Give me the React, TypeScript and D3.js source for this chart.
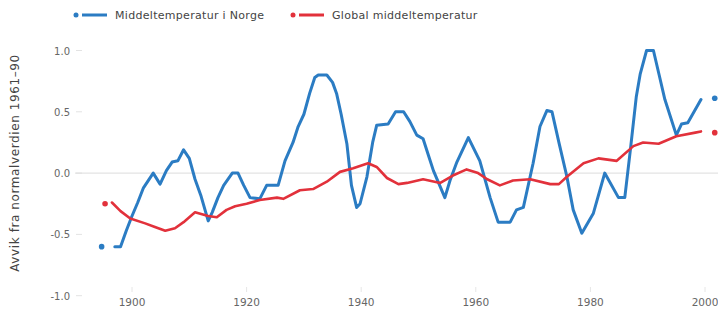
import React from 'react'
import * as d3 from 'd3'

// Middeltemperatur i Norge (avvik fra 1961-90)
const norgeYears = [1897, 1898, 1899, 1900, 1901, 1902, 1903.7, 1904.9, 1906, 1907, 1908, 1909, 1910, 1911, 1912, 1913.3, 1914, 1915, 1916, 1917.5, 1918.5, 1919.5, 1920.6, 1922.3, 1923.5, 1925.5, 1926.7, 1928.1, 1929, 1930, 1931, 1931.9, 1932.5, 1934, 1935, 1935.7, 1936.5, 1937.5, 1938.3, 1939.2, 1939.8, 1941, 1942, 1942.7, 1944.7, 1946, 1947.4, 1948.5, 1949.7, 1950.8, 1951.7, 1952.6, 1954.6, 1955.5, 1956.7, 1958.7, 1960.7, 1962.5, 1963.9, 1966, 1967.1, 1968.3, 1970, 1971.2, 1972.4, 1973.3, 1974.5, 1975.9, 1977, 1978.5, 1980.5, 1982.5, 1984.9, 1986, 1987, 1988, 1988.7, 1989.8, 1991, 1992, 1993, 1995, 1995.9, 1997, 1999.3]
const norgeValues = [-0.6, -0.6, -0.47, -0.35, -0.24, -0.12, 0.0, -0.09, 0.02, 0.09, 0.1, 0.19, 0.12, -0.05, -0.18, -0.39, -0.32, -0.2, -0.1, 0.0, 0.0, -0.1, -0.2, -0.21, -0.1, -0.1, 0.1, 0.25, 0.38, 0.48, 0.65, 0.78, 0.8, 0.8, 0.74, 0.65, 0.48, 0.24, -0.1, -0.28, -0.25, -0.03, 0.25, 0.39, 0.4, 0.5, 0.5, 0.42, 0.31, 0.28, 0.15, 0.02, -0.2, -0.06, 0.09, 0.29, 0.1, -0.2, -0.4, -0.4, -0.3, -0.28, 0.08, 0.38, 0.51, 0.5, 0.25, -0.03, -0.3, -0.49, -0.33, 0.0, -0.2, -0.2, 0.2, 0.62, 0.81, 1.0, 1.0, 0.8, 0.6, 0.31, 0.4, 0.41, 0.6]

// Global middeltemperatur
const globalYears = [1896.5, 1898, 1899.7, 1902.3, 1904, 1905.8, 1907.5, 1909, 1911, 1913.3, 1914.8, 1916.5, 1918, 1920, 1922.3, 1925.3, 1926.4, 1929.3, 1931.6, 1934, 1936.3, 1938.6, 1941.2, 1942.7, 1944.5, 1946.5, 1948, 1950.8, 1953.8, 1956, 1958.4, 1960.4, 1962, 1964.2, 1966.5, 1969.5, 1973, 1974.5, 1975.9, 1978.8, 1981.4, 1984.6, 1987.5, 1989.2, 1991.9, 1995, 1998.3, 1999.3]
const globalValues = [-0.24, -0.31, -0.37, -0.41, -0.44, -0.47, -0.45, -0.4, -0.32, -0.35, -0.36, -0.3, -0.27, -0.25, -0.22, -0.2, -0.21, -0.14, -0.13, -0.07, 0.01, 0.04, 0.08, 0.05, -0.04, -0.09, -0.08, -0.05, -0.08, -0.02, 0.03, 0.0, -0.05, -0.1, -0.06, -0.05, -0.09, -0.09, -0.03, 0.08, 0.12, 0.1, 0.22, 0.25, 0.24, 0.3, 0.33, 0.34]

// end markers (first / last value, drawn beside the line)
const norgeMarkers = [[1894.7, -0.6], [2001.7, 0.61]]
const globalMarkers = [[1895.3, -0.25], [2001.7, 0.33]]

const xTicks = [1900, 1920, 1940, 1960, 1980, 2000]
const yTicks = [1.0, 0.5, 0.0, -0.5, -1.0]

const series = [
    { name: 'Middeltemperatur i Norge', years: norgeYears, values: norgeValues, markers: norgeMarkers, color: '#2b7cc3', width: 3 },
    { name: 'Global middeltemperatur', years: globalYears, values: globalValues, markers: globalMarkers, color: '#e2313b', width: 2.6 }
]

const width = 718
const height = 312
const font = '"DejaVu Sans", Verdana, sans-serif'

export default function App() {
    const x = d3.scaleLinear().domain([1900, 2000]).range([132, 705])
    const y = d3.scaleLinear().domain([-1, 1]).range([295.7, 50.5])

    const line = d3.line<number[]>()
        .x(d => x(d[0]))
        .y(d => y(d[1]))

    const legendX = [76, 293]

    return (
        <svg width={width} height={height} style={{ position: 'absolute', left: 0, top: 0, background: '#fff' }}>
            {/* legend */}
            {series.map((s, i) => (
                <g key={s.name} transform={`translate(${legendX[i]},15)`}>
                    <circle cx={0} cy={0} r={2.5} fill={s.color} />
                    <line x1={6} x2={31} y1={0} y2={0} stroke={s.color} strokeWidth={3} />
                    <text x={39} y={4} fontFamily={font} fontSize={11} letterSpacing={0.3} fill="#444">{s.name}</text>
                </g>
            ))}

            {/* y axis */}
            <text transform="translate(19,163) rotate(-90)" textAnchor="middle" fontFamily={font} fontSize={12}
                letterSpacing={0.6} fill="#444">
                Avvik fra normalverdien 1961–90
            </text>
            {yTicks.map(t => (
                <g key={t}>
                    <text x={70} y={y(t) + 4} textAnchor="end" fontFamily={font} fontSize={10} fill="#666">
                        {d3.format('.1f')(t).replace('−', '-')}
                    </text>
                    <line x1={76} x2={82} y1={y(t)} y2={y(t)} stroke="#e3e3e3" strokeWidth={1} />
                </g>
            ))}
            <line x1={75} x2={width} y1={y(0)} y2={y(0)} stroke="#dcdcdc" strokeWidth={1} />

            {/* x axis */}
            {xTicks.map(t => (
                <g key={t}>
                    <line x1={x(t)} x2={x(t)} y1={287} y2={292} stroke="#e6e6e6" strokeWidth={1} />
                    <text x={x(t)} y={306} textAnchor="middle" fontFamily={font} fontSize={10.5} fill="#666">{t}</text>
                </g>
            ))}

            {/* lines */}
            {series.map(s => (
                <g key={s.name}>
                    <path d={line(s.years.map((yr, j) => [yr, s.values[j]])) || ''} fill="none" stroke={s.color}
                        strokeWidth={s.width} strokeLinejoin="round" strokeLinecap="round" />
                    {s.markers.map((m, j) => (
                        <circle key={j} cx={x(m[0])} cy={y(m[1])} r={2.8} fill={s.color} />
                    ))}
                </g>
            ))}
        </svg>
    )
}
